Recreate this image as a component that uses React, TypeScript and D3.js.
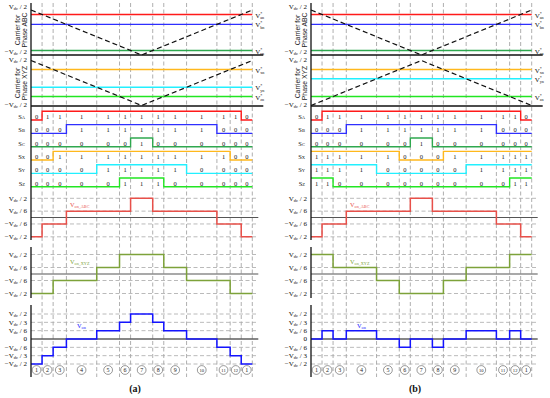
import React from "react";
import * as d3 from "d3";

const W = 550;
const H = 398;
const SERIF = "'Liberation Serif', 'DejaVu Serif', serif";
const SANS = "'Liberation Sans', Arial, sans-serif";

// switching instants as a fraction of one carrier period
const edges = [0, 0.05, 0.1, 0.16, 0.297, 0.4, 0.45, 0.55, 0.6, 0.703, 0.84, 0.9, 0.95, 1];
const intervalLabels = ["1", "2", "3", "4", "5", "6", "7", "8", "9", "10", "11", "12", "1"];

// reference levels (fraction of Vdc)
const refsABC = [0.4, 0.18, -0.4];
const refsXYZa = [0.3, -0.094, -0.3];
const refsXYZb = [0.3, 0.094, -0.3];

// gate states per interval
const sA = [0, 1, 1, 1, 1, 1, 1, 1, 1, 1, 1, 1, 0];
const sB = [0, 0, 0, 1, 1, 1, 1, 1, 1, 1, 0, 0, 0];
const sC = [0, 0, 0, 0, 0, 0, 1, 0, 0, 0, 0, 0, 0];
const sXa = [0, 0, 1, 1, 1, 1, 1, 1, 1, 1, 1, 0, 0];
const sYa = [0, 0, 0, 0, 1, 1, 1, 1, 1, 0, 0, 0, 0];
const sZa = [0, 0, 0, 0, 0, 1, 1, 1, 0, 0, 0, 0, 0];
const sXb = [1, 1, 1, 1, 1, 0, 0, 0, 1, 1, 1, 1, 1];
const sYb = [1, 1, 1, 1, 0, 0, 0, 0, 0, 1, 1, 1, 1];
const sZb = [1, 1, 0, 0, 0, 0, 0, 0, 0, 0, 0, 1, 1];

// common-mode voltages in units of Vdc/6
const vABC = [-3, -1, -1, 1, 1, 1, 3, 1, 1, 1, -1, -1, -3];
const vXYZa = [-3, -3, -1, -1, 1, 3, 3, 3, 1, -1, -1, -3, -3];
const vXYZb = [3, 3, 1, 1, -1, -3, -3, -3, -1, 1, 1, 3, 3];
const vOna = [-3, -2, -1, 0, 1, 2, 3, 2, 1, 0, -1, -2, -3];
const vOnb = [0, 1, 0, 1, 0, -1, 0, -1, 0, 1, 0, 1, 0];

const ticksHalfSixth = [3, 1, -1, -3];
const ticksVon = [3, 2, 1, 0, -1, -2, -3];

const COL = {
  a: "#ff1a1a", b: "#2f2fff", c: "#2fa84f",
  x: "#ffb81c", y: "#22f0ff", z: "#22e622",
  vabc: "#e8504a", vxyz: "#7da23a", von: "#1414ff",
};

function VdcLabel({ x, y, sixths }: { x: number; y: number; sixths: number }) {
  if (sixths === 0)
    return <text x={x} y={y + 2.3} textAnchor="end" fontSize={7} fontFamily={SERIF}>0</text>;
  const den = { 3: "2", 2: "3", 1: "6" }[Math.abs(sixths)];
  return (
    <text x={x} y={y + 2.3} textAnchor="end" fontSize={7} fontFamily={SERIF} fill="#111">
      <tspan>{sixths < 0 ? "\u2212V" : "V"}</tspan>
      <tspan fontSize={4.5} dy={1}>dc</tspan>
      <tspan dy={-1}>{" / " + den}</tspan>
    </text>
  );
}

function RefLabel({ x, y, sub }: { x: number; y: number; sub: string }) {
  return (
    <text x={x} y={y + 2.5} fontSize={7} fontFamily={SERIF} fill="#111">
      <tspan>V</tspan>
      <tspan fontSize={4.2} dy={-3}>*</tspan>
      <tspan fontSize={4.2} dx={-2.2} dy={4.5}>{sub}</tspan>
    </text>
  );
}

type PanelProps = {
  x0: number; x1: number; tag: string;
  refsXYZ: number[]; flipXYZ: boolean;
  sX: number[]; sY: number[]; sZ: number[];
  vXYZ: number[]; vOn: number[];
};

function Panel({ x0, x1, tag, refsXYZ, flipXYZ, sX, sY, sZ, vXYZ, vOn }: PanelProps) {
  const x = d3.scaleLinear().domain([0, 1]).range([x0, x1]);
  const yAbc = d3.scaleLinear().domain([-0.5, 0.5]).range([55, 10]);
  const yXyz = d3.scaleLinear().domain([-0.5, 0.5]).range([105.5, 60.5]);
  const yVabc = d3.scaleLinear().domain([-3, 3]).range([236.8, 198.3]);
  const yVxyz = d3.scaleLinear().domain([-3, 3]).range([293.5, 254.5]);
  const yVon = d3.scaleLinear().domain([-3, 3]).range([364, 314]);

  const stepPts = (vals: number[]) => [...vals.map((v, i) => [edges[i], v]), [1, vals[vals.length - 1]]];
  const step = (vals: number[], ys: d3.ScaleLinear<number, number>) =>
    d3.line<number[]>().curve(d3.curveStepAfter).x((d) => x(d[0])).y((d) => ys(d[1]))(stepPts(vals)) || "";
  const tri = (ys: d3.ScaleLinear<number, number>, flip: boolean) =>
    d3.line<number[]>().x((d) => x(d[0])).y((d) => ys(flip ? -d[1] : d[1]))([[0, 0.5], [0.5, -0.5], [1, 0.5]]) || "";

  const rows = [
    { name: "A", s: sA, c: COL.a }, { name: "B", s: sB, c: COL.b }, { name: "C", s: sC, c: COL.c },
    { name: "X", s: sX, c: COL.x }, { name: "Y", s: sY, c: COL.y }, { name: "Z", s: sZ, c: COL.z },
  ];
  const mids = edges.slice(0, -1).map((e, i) => (e + edges[i + 1]) / 2);
  const lx = x0 - 4;

  return (
    <g>
      {/* vertical dashed instants */}
      {edges.slice(1).map((e, i) => (
        <line key={"v" + i} x1={x(e)} x2={x(e)} y1={3} y2={377} stroke="#9a9a9a" strokeWidth={0.8} strokeDasharray="4,2.5" />
      ))}

      {/* carrier ABC */}
      {refsABC.map((r, i) => (
        <line key={"ra" + i} x1={x(0)} x2={x(1)} y1={yAbc(r)} y2={yAbc(r)} stroke={[COL.a, COL.b, COL.c][i]} strokeWidth={1.4} />
      ))}
      <path d={tri(yAbc, false)} fill="none" stroke="#111" strokeWidth={1.2} strokeDasharray="5,3" />
      <line x1={x0} x2={x1 + 11} y1={55} y2={55} stroke="#111" strokeWidth={1.3} />
      {/* carrier XYZ */}
      {refsXYZ.map((r, i) => (
        <line key={"rx" + i} x1={x(0)} x2={x(1)} y1={yXyz(r)} y2={yXyz(r)} stroke={[COL.x, COL.y, COL.z][i]} strokeWidth={1.4} />
      ))}
      <path d={tri(yXyz, flipXYZ)} fill="none" stroke="#111" strokeWidth={1.2} strokeDasharray="5,3" />
      <line x1={x0} x2={x1 + 11} y1={106} y2={106} stroke="#111" strokeWidth={1.3} />

      {["an", "bn", "cn"].map((s, i) => <RefLabel key={s} x={x1 + 3} y={yAbc(refsABC[i]) + 0.5} sub={s} />)}
      {["xn", "yn", "zn"].map((s, i) => <RefLabel key={s} x={x1 + 3} y={yXyz(refsXYZ[i]) + 0.5} sub={s} />)}
      <VdcLabel x={lx} y={yAbc(0.5) - 3.5} sixths={3} />
      <VdcLabel x={lx} y={yAbc(-0.5) - 3} sixths={-3} />
      <VdcLabel x={lx} y={yXyz(0.5) - 1} sixths={3} />
      <VdcLabel x={lx} y={yXyz(-0.5) - 1} sixths={-3} />
      {[["ABC", 30], ["XYZ", 83]].map(([p, cy]) => (
        <g key={p as string} transform={`translate(${x0 - 7},${cy}) rotate(-90)`}>
          <text x={0} y={-4.5} textAnchor="middle" fontSize={6.8} fontFamily={SANS} fill="#222">Carrier for</text>
          <text x={0} y={3} textAnchor="middle" fontSize={6.8} fontFamily={SANS} fill="#222">{"Phase " + p}</text>
        </g>
      ))}

      {/* gate signals */}
      {rows.map((r, i) => {
        const low = 120 + i * 13.35;
        const ys = d3.scaleLinear().domain([0, 1]).range([low, low - 8.7]);
        return (
          <g key={r.name}>
            <path d={step(r.s, ys)} fill="none" stroke={r.c} strokeWidth={1.4} />
            {r.s.map((v, k) => (
              <text key={k} x={x(mids[k])} y={low - 1.2} textAnchor="middle" fontSize={6.5} fontFamily={SERIF} fill="#111">{v}</text>
            ))}
            <text x={x0 - 6} y={low - 1} textAnchor="end" fontSize={6.5} fontFamily={SERIF} fill="#111">
              <tspan>S</tspan><tspan fontSize={4.5}>{r.name}</tspan>
            </text>
          </g>
        );
      })}

      {/* common-mode voltages */}
      {[
        { ys: yVabc, ticks: ticksHalfSixth, v: vABC, c: COL.vabc, sub: "on_ABC", zc: "#555", ly: 207 },
        { ys: yVxyz, ticks: ticksHalfSixth, v: vXYZ, c: COL.vxyz, sub: "on_XYZ", zc: "#555", ly: 263.5 },
        { ys: yVon, ticks: ticksVon, v: vOn, c: COL.von, sub: "on", zc: "#111", ly: 328 },
      ].map((p, j) => (
        <g key={"p" + j}>
          {p.ticks.filter((t) => t !== 0).map((t) => (
            <line key={t} x1={x0} x2={x1 + 5} y1={p.ys(t)} y2={p.ys(t)} stroke="#a8a8a8" strokeWidth={0.8} strokeDasharray="4,2.5" />
          ))}
          <line x1={x0} x2={x1 + 6} y1={p.ys(0)} y2={p.ys(0)} stroke={p.zc} strokeWidth={1.1} />
          <path d={step(p.v, p.ys)} fill="none" stroke={p.c} strokeWidth={1.5} />
          {p.ticks.map((t) => <VdcLabel key={t} x={lx} y={p.ys(t)} sixths={t} />)}
          <text x={x0 + (j === 2 ? 46 : 39)} y={p.ly} fontSize={6.3} fontFamily={SERIF} fill={p.c}>
            <tspan>V</tspan><tspan fontSize={4.2} dy={1}>{p.sub}</tspan>
          </text>
        </g>
      ))}

      {/* interval numbers */}
      {mids.map((m, k) => (
        <g key={"n" + k}>
          <circle cx={x(m)} cy={370} r={4.4} fill="#fff" stroke="#555" strokeWidth={0.6} />
          <text x={x(m)} y={372.2} textAnchor="middle" fontSize={intervalLabels[k].length > 1 ? 4.6 : 6} fontFamily={SERIF} fill="#222">{intervalLabels[k]}</text>
        </g>
      ))}

      {/* left axis */}
      {[[3, 240], [247, 298], [305, 377]].map(([a, b], i) => (
        <line key={"ax" + i} x1={x0} x2={x0} y1={a} y2={b} stroke="#111" strokeWidth={1.3} />
      ))}

      <text x={x0 + 104} y={392} textAnchor="middle" fontSize={10} fontWeight="bold" fontFamily={SERIF} fill="#111">{tag}</text>
    </g>
  );
}

export default function App() {
  return (
    <svg width={W} height={H} style={{ position: "absolute", left: 0, top: 0, background: "#fff" }}>
      <rect width={W} height={H} fill="#fff" />
      <Panel x0={31} x1={252.3} tag="(a)" refsXYZ={refsXYZa} flipXYZ={false} sX={sXa} sY={sYa} sZ={sZa} vXYZ={vXYZa} vOn={vOna} />
      <Panel x0={311} x1={531.7} tag="(b)" refsXYZ={refsXYZb} flipXYZ={true} sX={sXb} sY={sYb} sZ={sZb} vXYZ={vXYZb} vOn={vOnb} />
    </svg>
  );
}
